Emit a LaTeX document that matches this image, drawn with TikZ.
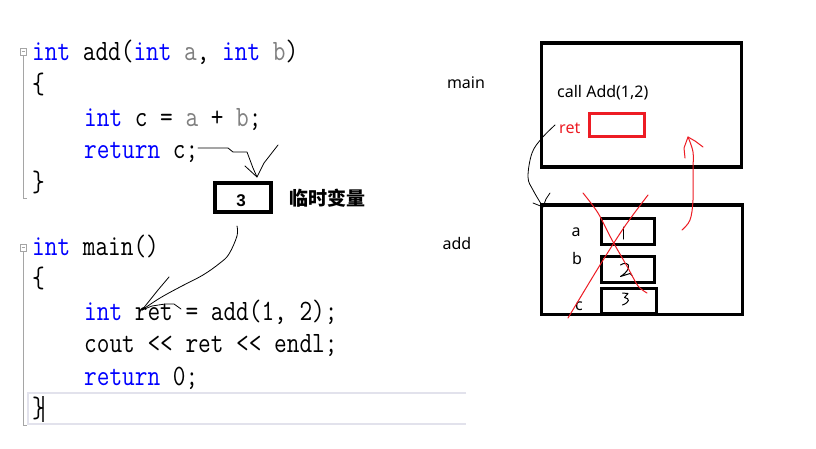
\documentclass[tikz,border=0pt]{standalone}
\usepackage{fontspec}
\usepackage{graphicx}
\setmainfont{Noto Sans}
\newfontfamily\codefont{Latin Modern Mono}
\newfontfamily\boldsans{Liberation Sans}
\newfontfamily\cjk{Noto Sans CJK SC}
\definecolor{kwblue}{RGB}{0,0,255}
\definecolor{pgray}{RGB}{128,128,128}
\definecolor{hred}{RGB}{237,28,36}
\definecolor{gutter}{RGB}{165,165,165}
\definecolor{hilite}{RGB}{226,226,236}
\newcommand\kw[1]{\textcolor{kwblue}{#1}}
\newcommand\pa[1]{\textcolor{pgray}{#1}}
\newcommand\cl[1]{\scalebox{1}[1.2]{#1}}
\tikzset{
  code/.style={anchor=base west, inner sep=0pt, font=\codefont\fontsize{24.6}{24}\selectfont},
  lbl/.style={anchor=center, inner sep=0pt, font=\fontsize{16}{16}\selectfont},
  frame/.style={draw=black, line width=3.2pt},
  cell/.style={draw=black, line width=3pt},
  hand/.style={draw=black, line width=0.8pt, line join=round, line cap=round},
  redhand/.style={draw=hred, line width=1pt, line join=round, line cap=round},
}
\begin{document}
\begin{tikzpicture}[x=1pt,y=-1pt]
\fill[white] (0,0) rectangle (816,448);
\useasboundingbox (0,0) rectangle (816,448);

% gutter
\draw[gutter, line width=0.8pt] (20,48) rectangle (26,55);
\draw[gutter, line width=0.8pt] (21.5,51.5) -- (24.5,51.5);
\draw[gutter, line width=1pt] (23,55) -- (23,198) -- (27,198);
\draw[gutter, line width=0.8pt] (20,244) rectangle (26,251);
\draw[gutter, line width=0.8pt] (21.5,247.5) -- (24.5,247.5);
\draw[gutter, line width=1pt] (23,251) -- (23,425) -- (27,425);

% current-line highlight
\draw[hilite, line width=2pt] (466,393) -- (28,393) -- (28,424) -- (466,424);
\draw[black!75, line width=1.6pt] (43,396) -- (43,422);

% code
\node[code] (l1) at (32,60) {\cl{\kw{int} add(\kw{int} \pa{a}, \kw{int} \pa{b})}};
\node[code] (l2) at (32,93) {\cl{\{}};
\node[code] (l3) at (84,126) {\cl{\kw{int} c = \pa{a} + \pa{b};}};
\node[code] (l4) at (84,158) {\cl{\kw{return} c;}};
\node[code] (l5) at (32,191) {\cl{\}}};
\node[code] (m1) at (32,255) {\cl{\kw{int} main()}};
\node[code] (m2) at (32,287) {\cl{\{}};
\node[code] (m3) at (84,320) {\cl{\kw{int} ret = add(1, 2);}};
\node[code] (m4) at (84,352) {\cl{cout << ret << endl;}};
\node[code] (m5) at (84,385) {\cl{\kw{return} 0;}};
\node[code] (m6) at (32,417) {\cl{\}}};

% temporary box
\draw[draw=black, line width=4pt] (215,183) rectangle (271,212);
\node[inner sep=0pt, font=\boldsans\bfseries\fontsize{17}{17}\selectfont] (tmp) at (241,201) {3};
\node[inner sep=0pt, anchor=west, font=\cjk\bfseries\fontsize{19}{19}\selectfont] (tmplbl) at (289,198) {临时变量};

% return c -> temp
\coordinate (rc) at (198,148);
\coordinate (rtip) at (257,177);
\draw[hand] (rc) -- (228,148) -- (233,152) -- (247,152) -- (253,168) -- (rtip);
\draw[hand] (245,166) -- (rtip) -- (264,163) -- (271,154) -- (278,145);

% temp -> ret
\coordinate (ts) at (237,226);
\coordinate (rettip) at (142,310);
\draw[hand] plot[smooth, tension=0.6] coordinates {(ts) (237,236) (229,254) (220,263) (203,275) (180,287) (160,298) (rettip)};
\draw[hand] (rettip) -- (158,290) -- (169,277);
\draw[hand] (rettip) -- (152,306) -- (165,304) -- (174,304) -- (181,309);

% right side labels
\node[lbl] (lmain) at (466,83) {main};
\node[lbl] (ladd) at (457,243) {add};

% main frame
\draw[frame] (541.5,43) rectangle (741.5,167);
\node[lbl, anchor=west] (call) at (557,93) {call Add(1,2)};
\node[lbl, anchor=west, text=hred] (ret) at (559,128) {ret};
\draw[draw=hred, line width=2.6pt] (589.5,113.5) rectangle (644.5,136.5);

% add frame
\draw[frame] (541.5,205) rectangle (742.5,314.5);
\node[lbl] (la) at (576,232) {a};
\node[lbl] (lb) at (577,258) {b};
\node[lbl] (lc) at (579,306) {c};
\draw[cell] (601,218.5) rectangle (654,244);
\draw[cell] (601,256.5) rectangle (654,282);
\draw[cell] (601,288) rectangle (656,313.5);

% handwritten digits
\draw[hand, line width=1pt] (623,227) -- (623,239);
\draw[hand, line width=1pt] (620.5,265) .. controls (624,262) and (630,263) .. (628.5,268) .. controls (627,272) and (623,275) .. (620.5,276.5) -- (630,273.5) -- (632,275.5);
\draw[hand, line width=1pt] (622.5,293) -- (628,293.5) -- (624.5,297.5) .. controls (630,298.5) and (630,302) .. (622.5,305);

% ret -> add frame
\coordinate (rs) at (555,125);
\coordinate (atip) at (543,207);
\draw[hand] plot[smooth, tension=0.6] coordinates {(rs) (542,138) (532,153) (528,177) (533,190) (atip)};
\draw[hand] (533,203) -- (atip) -- (546,199) -- (550,193);

% red cross
\draw[redhand] plot[smooth, tension=0.5] coordinates {(583,193) (598,213) (612,240) (628,268) (638,286) (647,293)};
\draw[redhand] plot[smooth, tension=0.5] coordinates {(648,195) (625,226) (600,265) (568,318)};

% red return arrow
\coordinate (rb) at (682,230);
\coordinate (rt) at (688,137);
\draw[redhand] plot[smooth, tension=0.6] coordinates {(rb) (690,220) (693,200) (693,170) (693,152) (rt)};
\draw[redhand] (685,158) -- (684,148) -- (rt) -- (695,141) -- (703,147);
\end{tikzpicture}
\end{document}
